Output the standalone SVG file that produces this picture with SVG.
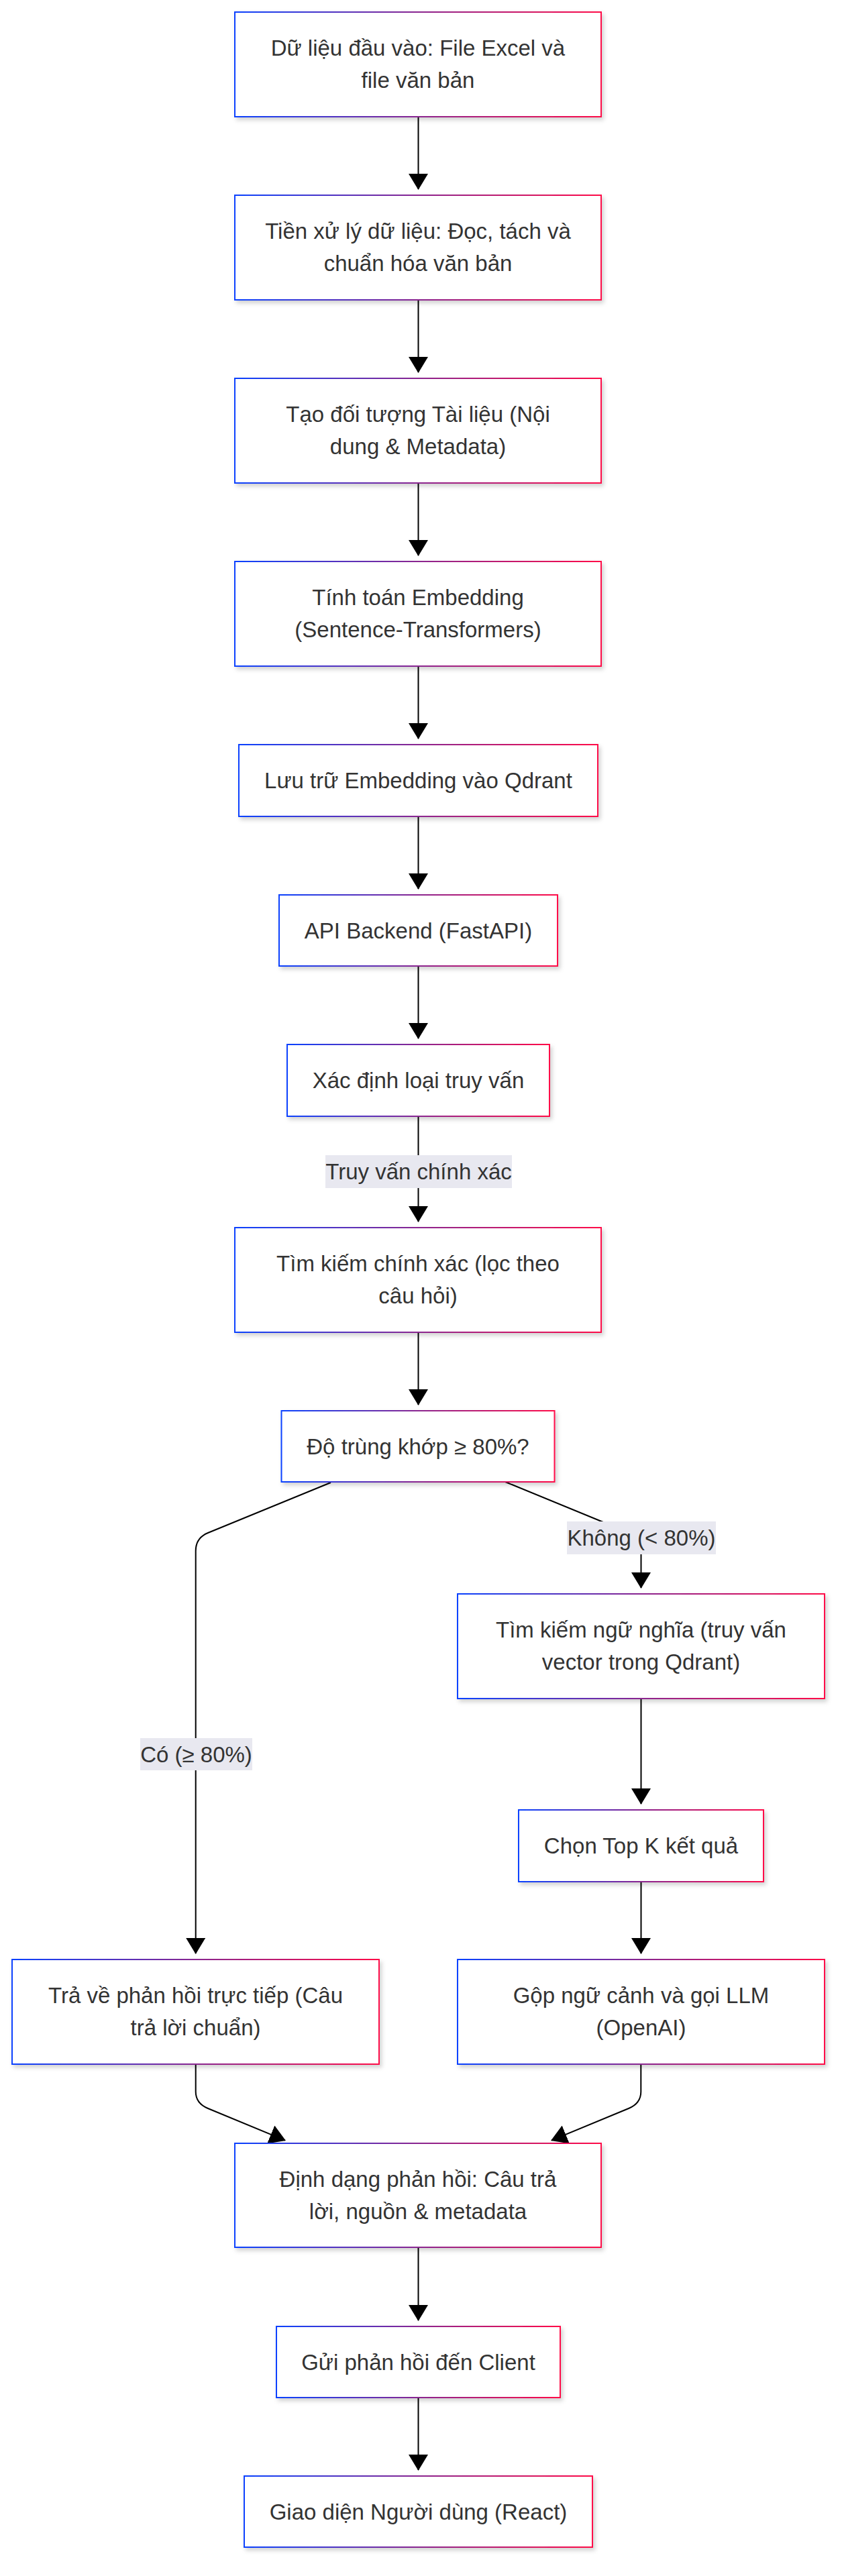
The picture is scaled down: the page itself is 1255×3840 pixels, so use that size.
<svg xmlns="http://www.w3.org/2000/svg" width="1255" height="3840" viewBox="0 0 1255 3840">
<defs>
<linearGradient id="g" x1="0" y1="0" x2="1" y2="0">
<stop offset="0" stop-color="#0a42ff"/>
<stop offset="0.5" stop-color="#8a2690"/>
<stop offset="1" stop-color="#ff0a48"/>
</linearGradient>
<filter id="sh" x="-10%" y="-10%" width="125%" height="140%">
<feDropShadow dx="3" dy="4" stdDeviation="3" flood-color="#000" flood-opacity="0.18"/>
</filter>
<marker id="ah" markerUnits="userSpaceOnUse" viewBox="0 0 24 29" markerWidth="24" markerHeight="29" refX="23" refY="14.5" orient="auto">
<path d="M0,0 L24,14.5 L0,29 z" fill="#000"/>
</marker>
<style>
.n rect{fill:#fff;stroke:url(#g);stroke-width:2;filter:url(#sh)}
text{font-family:"Liberation Sans",Arial,sans-serif;font-size:33px;fill:#333;text-anchor:middle}
.e path{fill:none;stroke:#000;stroke-width:2;marker-end:url(#ah)}
.lb rect{fill:#e8e8f0}
</style>
</defs>

<g id="edges" class="e">
<path d="M623.5,174 L623.5,282"/>
<path d="M623.5,447 L623.5,555"/>
<path d="M623.5,720 L623.5,828"/>
<path d="M623.5,993 L623.5,1101"/>
<path d="M623.5,1217 L623.5,1325"/>
<path d="M623.5,1440 L623.5,1548"/>
<path d="M623.5,1664 L623.5,1821"/>
<path d="M623.5,1986 L623.5,2094"/>
<path d="M753,2209 L938,2285 Q955.5,2292 955.5,2305 L955.5,2367"/>
<path d="M493,2210 L310,2285 Q291.7,2292.5 291.7,2312 L291.7,2912"/>
<path d="M955.5,2532 L955.5,2689"/>
<path d="M955.5,2805 L955.5,2912"/>
<path d="M291.7,3077 L291.7,3118 Q291.7,3135.4 310,3143 L425,3190.7"/>
<path d="M955.3,3077 L955.3,3118 Q955.3,3135.4 937,3143 L822,3190.7"/>
<path d="M623.5,3350 L623.5,3459"/>
<path d="M623.5,3574 L623.5,3682"/>
</g>

<g id="edge-labels" class="lb">
<g id="lbl-exact"><rect x="485" y="1722" width="278" height="49"/><text x="624" y="1758">Truy vấn chính xác</text></g>
<g id="lbl-no"><rect x="845" y="2268" width="222" height="49"/><text x="956" y="2304">Không (&lt; 80%)</text></g>
<g id="lbl-yes"><rect x="209" y="2591" width="167" height="48"/><text x="292.5" y="2626.5">Có (≥ 80%)</text></g>
</g>

<g id="n1" class="n"><rect x="350" y="18" width="546" height="156"/><text x="623" y="83">Dữ liệu đầu vào: File Excel và</text><text x="623" y="131">file văn bản</text></g>
<g id="n2" class="n"><rect x="350" y="291" width="546" height="156"/><text x="623" y="356">Tiền xử lý dữ liệu: Đọc, tách và</text><text x="623" y="404">chuẩn hóa văn bản</text></g>
<g id="n3" class="n"><rect x="350" y="564" width="546" height="156"/><text x="623" y="629">Tạo đối tượng Tài liệu (Nội</text><text x="623" y="677">dung &amp; Metadata)</text></g>
<g id="n4" class="n"><rect x="350" y="837" width="546" height="156"/><text x="623" y="902">Tính toán Embedding</text><text x="623" y="950">(Sentence-Transformers)</text></g>
<g id="n5" class="n"><rect x="356" y="1110" width="535" height="107"/><text x="623.5" y="1175">Lưu trữ Embedding vào Qdrant</text></g>
<g id="n6" class="n"><rect x="416" y="1334" width="415" height="106"/><text x="623.5" y="1398.5">API Backend (FastAPI)</text></g>
<g id="n7" class="n"><rect x="428" y="1557" width="391" height="107"/><text x="623.5" y="1622">Xác định loại truy vấn</text></g>
<g id="n8" class="n"><rect x="350" y="1830" width="546" height="156"/><text x="623" y="1895">Tìm kiếm chính xác (lọc theo</text><text x="623" y="1943">câu hỏi)</text></g>
<g id="n9" class="n"><rect x="419.5" y="2103" width="407" height="106"/><text x="623" y="2167.5">Độ trùng khớp ≥ 80%?</text></g>
<g id="n11" class="n"><rect x="682" y="2376" width="547" height="156"/><text x="955.5" y="2441">Tìm kiếm ngữ nghĩa (truy vấn</text><text x="955.5" y="2489">vector trong Qdrant)</text></g>
<g id="n13" class="n"><rect x="773" y="2698" width="365" height="107"/><text x="955.5" y="2763">Chọn Top K kết quả</text></g>
<g id="n14" class="n"><rect x="18" y="2921" width="547" height="156"/><text x="291.5" y="2986">Trả về phản hồi trực tiếp (Câu</text><text x="291.5" y="3034">trả lời chuẩn)</text></g>
<g id="n15" class="n"><rect x="682" y="2921" width="547" height="156"/><text x="955.5" y="2986">Gộp ngữ cảnh và gọi LLM</text><text x="955.5" y="3034">(OpenAI)</text></g>
<g id="n16" class="n"><rect x="350" y="3195" width="546" height="155"/><text x="623" y="3260">Định dạng phản hồi: Câu trả</text><text x="623" y="3308">lời, nguồn &amp; metadata</text></g>
<g id="n17" class="n"><rect x="412" y="3468" width="423" height="106"/><text x="623.5" y="3532.5">Gửi phản hồi đến Client</text></g>
<g id="n18" class="n"><rect x="364" y="3691" width="519" height="106"/><text x="623.5" y="3755.5">Giao diện Người dùng (React)</text></g>
</svg>
